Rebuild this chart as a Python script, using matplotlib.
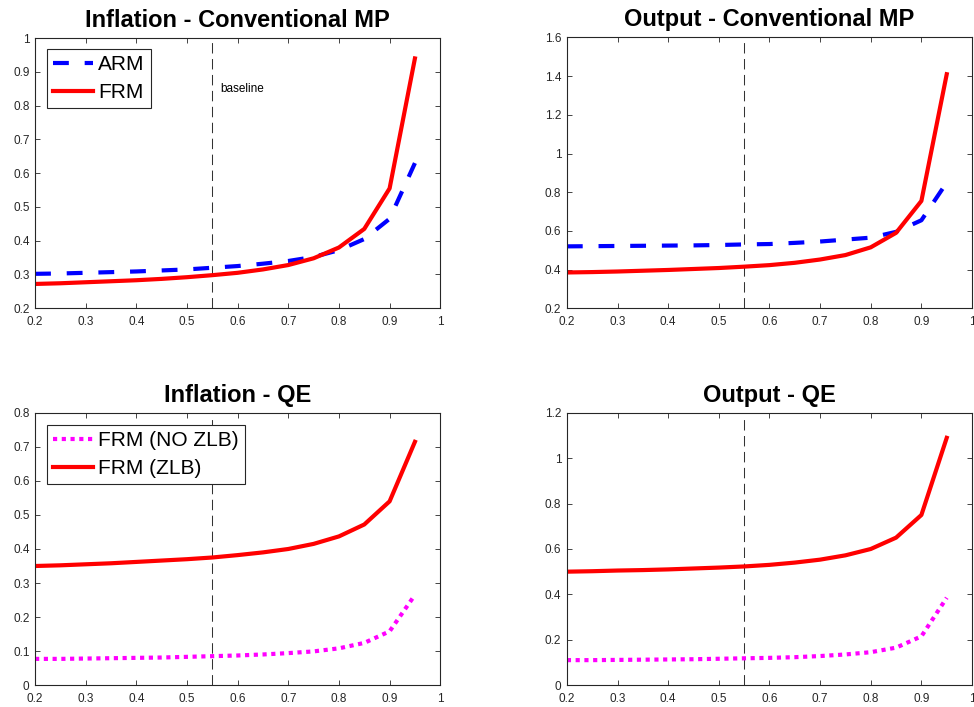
import numpy as np
import matplotlib
matplotlib.use("Agg")
import matplotlib.pyplot as plt

plt.rcParams['font.family'] = ['Liberation Sans', 'DejaVu Sans']

# horizontal axis: parameter grid
x = [0.2, 0.25, 0.3, 0.35, 0.4, 0.45, 0.5, 0.55, 0.6, 0.65, 0.7, 0.75, 0.8, 0.85, 0.9, 0.95]
baseline = 0.55

# Inflation - Conventional MP
infl_mp_arm = [0.302, 0.303, 0.305, 0.307, 0.309, 0.312, 0.315, 0.320, 0.325, 0.332, 0.340, 0.352, 0.372, 0.405, 0.465, 0.630]
infl_mp_frm = [0.272, 0.274, 0.277, 0.280, 0.283, 0.287, 0.292, 0.298, 0.305, 0.315, 0.328, 0.348, 0.380, 0.435, 0.555, 0.940]

# Output - Conventional MP
out_mp_arm = [0.520, 0.521, 0.522, 0.523, 0.524, 0.525, 0.527, 0.530, 0.532, 0.538, 0.545, 0.555, 0.565, 0.595, 0.655, 0.850]
out_mp_frm = [0.385, 0.387, 0.390, 0.394, 0.398, 0.403, 0.408, 0.415, 0.423, 0.435, 0.452, 0.475, 0.515, 0.590, 0.755, 1.410]

# Inflation - QE
infl_qe_nozlb = [0.077, 0.077, 0.078, 0.079, 0.080, 0.081, 0.083, 0.085, 0.087, 0.090, 0.094, 0.099, 0.108, 0.124, 0.158, 0.265]
infl_qe_zlb = [0.350, 0.352, 0.355, 0.358, 0.362, 0.366, 0.370, 0.375, 0.382, 0.390, 0.400, 0.415, 0.437, 0.472, 0.540, 0.715]

# Output - QE
out_qe_nozlb = [0.110, 0.110, 0.111, 0.112, 0.113, 0.114, 0.116, 0.118, 0.120, 0.123, 0.128, 0.135, 0.145, 0.165, 0.215, 0.385]
out_qe_zlb = [0.500, 0.502, 0.505, 0.507, 0.510, 0.514, 0.518, 0.523, 0.530, 0.540, 0.553, 0.572, 0.600, 0.650, 0.750, 1.090]

fig = plt.figure(figsize=(9.74, 7.07), dpi=100)

w = 0.416
positions = [[0.036, 0.564, w, 0.382], [0.582, 0.564, w, 0.383],
             [0.036, 0.031, w, 0.385], [0.582, 0.031, w, 0.385]]
titles = ['Inflation - Conventional MP', 'Output - Conventional MP', 'Inflation - QE', 'Output - QE']
ylims = [(0.2, 1.0), (0.2, 1.6), (0, 0.8), (0, 1.2)]
ysteps = [0.1, 0.2, 0.1, 0.2]

axes = []
for pos, title, yl, st in zip(positions, titles, ylims, ysteps):
    ax = fig.add_axes(pos)
    ax.set_xlim(0.2, 1)
    ax.set_ylim(*yl)
    ax.set_xticks(np.round(np.arange(0.2, 1.01, 0.1), 2))
    ax.set_yticks(np.round(np.arange(yl[0], yl[1] + 1e-9, st), 2))
    ax.xaxis.set_major_formatter(plt.FuncFormatter(lambda v, p: f'{v:g}'))
    ax.yaxis.set_major_formatter(plt.FuncFormatter(lambda v, p: f'{v:g}'))
    ax.tick_params(direction='in', top=True, right=True, labelsize=8.5,
                   colors='#262626', length=3.5, width=0.6)
    ax.tick_params(axis='x', pad=5.5)
    ax.tick_params(axis='y', pad=4)
    for s in ax.spines.values():
        s.set_color('#262626')
        s.set_linewidth(0.8)
    ax.set_title(title, fontsize=17, fontweight='bold', pad=8)
    ax.axvline(baseline, ymin=0, ymax=0.985, color='#333333', lw=0.75,
               linestyle=(0, (10, 5.3)))
    axes.append(ax)

dash = (0, (3.8, 3.8))
dot = (0, (1, 1.1))
leg_kw = dict(loc='upper left', fontsize=15, frameon=True, fancybox=False,
              edgecolor='#262626', framealpha=1, handlelength=1.9, handletextpad=0.25,
              borderpad=0.3, labelspacing=0.42, borderaxespad=0)

ax = axes[0]
ax.plot(x, infl_mp_arm, color='blue', lw=3, linestyle=dash, label='ARM')
ax.plot(x, infl_mp_frm, color='red', lw=3, label='FRM')
ax.text(0.565, 0.85, 'baseline', fontsize=8.5, va='center')
leg = ax.legend(bbox_to_anchor=(0.03, 0.96), **leg_kw)
leg.get_frame().set_linewidth(0.8)

ax = axes[1]
ax.plot(x, out_mp_arm, color='blue', lw=3, linestyle=dash)
ax.plot(x, out_mp_frm, color='red', lw=3)

ax = axes[2]
ax.plot(x, infl_qe_nozlb, color='magenta', lw=3, linestyle=dot, label='FRM (NO ZLB)')
ax.plot(x, infl_qe_zlb, color='red', lw=3, label='FRM (ZLB)')
leg = ax.legend(bbox_to_anchor=(0.03, 0.956), **leg_kw)
leg.get_frame().set_linewidth(0.8)

ax = axes[3]
ax.plot(x, out_qe_nozlb, color='magenta', lw=3, linestyle=dot)
ax.plot(x, out_qe_zlb, color='red', lw=3)

fig.savefig('out.png', dpi=100)
